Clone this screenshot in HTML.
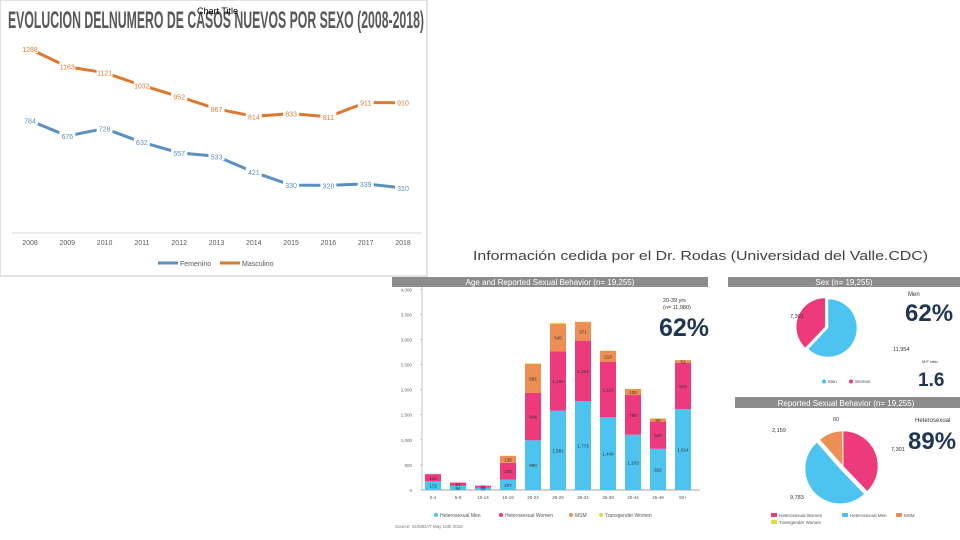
<!DOCTYPE html>
<html><head><meta charset="utf-8"><style>
html,body{margin:0;padding:0;background:#fff;width:960px;height:540px;overflow:hidden}
svg{display:block;font-family:"Liberation Sans",sans-serif}
</style></head><body>
<svg id="s" width="960" height="540" viewBox="0 0 960 540" xmlns="http://www.w3.org/2000/svg">
<!-- left chart frame -->
<rect x="0" y="0" width="427" height="276" fill="#fff" stroke="#d9d9d9" stroke-width="1.5"/>
<text x="8" y="28" font-size="24" font-weight="bold" fill="#595959" textLength="416" lengthAdjust="spacingAndGlyphs">EVOLUCION DELNUMERO DE CASOS NUEVOS POR SEXO (2008-2018)</text>
<text x="197" y="14" font-size="9" fill="#000">Chart Title</text>
<line x1="12" y1="233" x2="422" y2="233" stroke="#d9d9d9" stroke-width="1"/>
<g id="lc"></g>
<!-- legend -->
<line x1="158" y1="263" x2="178" y2="263" stroke="#5b8fbf" stroke-width="3"/>
<text x="180" y="266" font-size="7" fill="#595959">Femenino</text>
<line x1="220" y1="263" x2="240" y2="263" stroke="#d97a33" stroke-width="3"/>
<text x="242" y="266" font-size="7" fill="#595959">Masculino</text>

<text x="473" y="260" font-size="13" fill="#404040" textLength="455" lengthAdjust="spacingAndGlyphs">Información cedida por el Dr. Rodas (Universidad del Valle.CDC)</text>

<!-- bar panel -->
<rect x="392" y="277" width="316" height="10" fill="#8c8c8c"/>
<text x="550" y="285" font-size="8" fill="#fff" text-anchor="middle">Age and Reported Sexual Behavior (n= 19,255)</text>
<line x1="422" y1="287" x2="422" y2="490" stroke="#aaa" stroke-width="0.7"/>
<line x1="422" y1="490" x2="700" y2="490" stroke="#888" stroke-width="0.7"/>
<g id="bc"></g>
<text x="663" y="302" font-size="5.5" fill="#333">20-39 yrs</text>
<text x="663" y="309" font-size="5.5" fill="#333">(n= 11,980)</text>
<text x="659" y="336" font-size="25" font-weight="bold" fill="#1f3552">62%</text>
<text x="395" y="528" font-size="4.5" fill="#777">Source: SUMIDAT May 10th 2019</text>

<!-- pies -->
<rect x="728" y="277" width="232" height="10" fill="#8c8c8c"/>
<text x="844" y="285" font-size="8" fill="#fff" text-anchor="middle">Sex (n= 19,255)</text>
<rect x="735" y="397" width="225" height="11" fill="#8c8c8c"/>
<text x="846" y="406" font-size="8" fill="#fff" text-anchor="middle">Reported Sexual Behavior (n= 19,255)</text>
<g id="pc"></g>
<text x="908" y="296" font-size="6" fill="#333">Men</text>
<text x="905" y="321" font-size="24" font-weight="bold" fill="#1f3552">62%</text>
<text x="922" y="363" font-size="4" fill="#333">M:F ratio</text>
<text x="918" y="386" font-size="19" font-weight="bold" fill="#1f3552">1.6</text>
<text x="915" y="422" font-size="6" fill="#333">Heterosexual</text>
<text x="908" y="449" font-size="24" font-weight="bold" fill="#1f3552">89%</text>
</svg>
<script>
const years = ["2008","2009","2010","2011","2012","2013","2014","2015","2016","2017","2018"];
const femenino = [784,676,728,632,557,533,421,330,328,339,310];
const masculino = [1288,1163,1121,1032,952,867,814,833,811,911,910];

const ageGroups = ["0-4","5-9","10-14","15-19","20-24","25-29","30-34","35-39","40-44","45-49","50+"];
const hetMen = [172,84,50,207,990,1581,1773,1449,1103,822,1614];
const hetWomen = [144,64,36,335,944,1185,1204,1110,790,540,924];
const msm = [0,0,0,138,581,545,371,213,120,60,51];
const transWomen = [0,0,0,5,10,24,7,7,3,8,2];
const barTicks = [0,500,1000,1500,2000,2500,3000,3500,4000];
const barTickLabels = ["0","500","1,000","1,500","2,000","2,500","3,000","3,500","4,000"];

const sexLabels = ["Man","Woman"];
const sexValues = [11954,7301];
const behLabels = ["Heterosexual Women","Heterosexual Men","MSM","Transgender Women"];
const behValues = [7301,9783,2159,60];

const NS="http://www.w3.org/2000/svg";
function mk(tag,attrs,parent,txt){const e=document.createElementNS(NS,tag);for(const k in attrs)e.setAttribute(k,attrs[k]);if(txt!==undefined)e.textContent=txt;parent.appendChild(e);return e;}

// line chart
const lx=i=>30+i*37.3;
const ly=v=>232-v*0.1421;
const lc=document.getElementById('lc');
years.forEach((y,i)=>{
  const t=mk('text',{x:lx(i),y:245,'font-size':7,fill:'#595959','text-anchor':'middle'},lc,y);
  
  
});
function series(vals,color,name){
  const p=mk('polyline',{points:vals.map((v,i)=>lx(i)+','+ly(v)).join(' '),fill:'none',stroke:color,'stroke-width':3,'stroke-linejoin':'round'},lc);
  
  
  vals.forEach((v,i)=>{
    const bg=mk('rect',{x:lx(i)-8,y:ly(v)-5,width:16,height:9,fill:'#fff'},lc);
    
    
    const t=mk('text',{x:lx(i),y:ly(v)+3,'font-size':7,fill:color,'text-anchor':'middle'},lc,v);
    
    
  });
}
series(masculino,'#d97a33','masculino');
series(femenino,'#5b8fbf','femenino');

// bar chart
const bc=document.getElementById('bc');
const by=v=>490-v*0.05017;
const bx=i=>433+i*25;
barTicks.forEach((t,i)=>{
  const g=mk('line',{x1:420,y1:by(t),x2:422,y2:by(t),stroke:'#aaa','stroke-width':0.6},bc);
  
  
  const l=mk('text',{x:412,y:by(t)+2,'font-size':4.5,fill:'#666','text-anchor':'end'},bc,barTickLabels[i]);
  
  
});
const stacks=[[hetMen,'#4dc3ef','het-men'],[hetWomen,'#ec3a7c','het-women'],[msm,'#ed8f55','msm'],[transWomen,'#d8de3c','trans-women']];
ageGroups.forEach((a,i)=>{
  let base=0;
  stacks.forEach(([arr,col,nm])=>{
    const v=arr[i]; if(v<=0) return;
    const r=mk('rect',{x:bx(i)-8,y:by(base+v),width:16,height:by(base)-by(base+v),fill:col},bc);
    
    
    if(v>=30){
      const t=mk('text',{x:bx(i),y:(by(base)+by(base+v))/2+2,'font-size':4.5,fill:'#333','text-anchor':'middle'},bc,v.toLocaleString('en-US'));
      
      
    }
    base+=v;
  });
  const t=mk('text',{x:bx(i),y:499,'font-size':4.5,fill:'#555','text-anchor':'middle'},bc,a);
  
  
});
const legItems=[['Heterosexual Men','#4dc3ef',436],['Heterosexual Women','#ec3a7c',501],['MSM','#ed8f55',571],['Transgender Women','#d8de3c',601]];
legItems.forEach(([n,c,x])=>{
  const d=mk('circle',{cx:x,cy:515,r:2,fill:c},bc);
  
  
  const t=mk('text',{x:x+4,y:517,'font-size':5,fill:'#555'},bc,n);
  
  
});

// pies
const pc=document.getElementById('pc');
function pie(vals,colors,cx,cy,r,explode,name){
  const tot=vals.reduce((a,b)=>a+b,0);let a0=0;
  vals.forEach((v,i)=>{
    const a1=a0+v/tot*2*Math.PI;const mid=(a0+a1)/2;
    const ox=explode[i]*Math.sin(mid),oy=-explode[i]*Math.cos(mid);
    const x0=cx+ox+r*Math.sin(a0),y0=cy+oy-r*Math.cos(a0),x1=cx+ox+r*Math.sin(a1),y1=cy+oy-r*Math.cos(a1);
    const large=(a1-a0)>Math.PI?1:0;
    const p=mk('path',{d:`M${cx+ox},${cy+oy}L${x0},${y0}A${r},${r} 0 ${large} 1 ${x1},${y1}Z`,fill:colors[i],stroke:'#fff','stroke-width':0.5},pc);
    
    
    a0=a1;
  });
}
pie(sexValues,['#4dc3ef','#ec3a7c'],828,328,29,[0,3],'sex-pie');
pie(behValues,['#ec3a7c','#4dc3ef','#ed8f55','#d8de3c'],843,466,35,[0,4,0,0],'behavior-pie');
const pl=[[790,318,'7,301'],[893,351,'11,954'],[833,421,'60'],[772,432,'2,159'],[891,451,'7,301'],[790,499,'9,783']];
pl.forEach(([x,y,t])=>{
  const e=mk('text',{x:x,y:y,'font-size':5.5,fill:'#333'},pc,t);
  
  
});
const sl=[[824,383,'#4dc3ef','Man'],[851,383,'#ec3a7c','Woman']];
sl.forEach(([x,y,c,t])=>{
  const d=mk('circle',{cx:x,cy:y-1.5,r:2,fill:c},pc);
  
  
  const e=mk('text',{x:x+4,y:y,'font-size':4.5,fill:'#555'},pc,t);
  
  
});
const bl=[[771,517,'#ec3a7c','Heterosexual Women'],[842,517,'#4dc3ef','Heterosexual Men'],[896,517,'#ed8f55','MSM'],[771,524,'#d8de3c','Transgender Women']];
bl.forEach(([x,y,c,t])=>{
  const d=mk('rect',{x:x,y:y-4,width:6,height:4,fill:c},pc);
  
  
  const e=mk('text',{x:x+8,y:y,'font-size':4.5,fill:'#555'},pc,t);
  
  
});
</script>
</body></html>
